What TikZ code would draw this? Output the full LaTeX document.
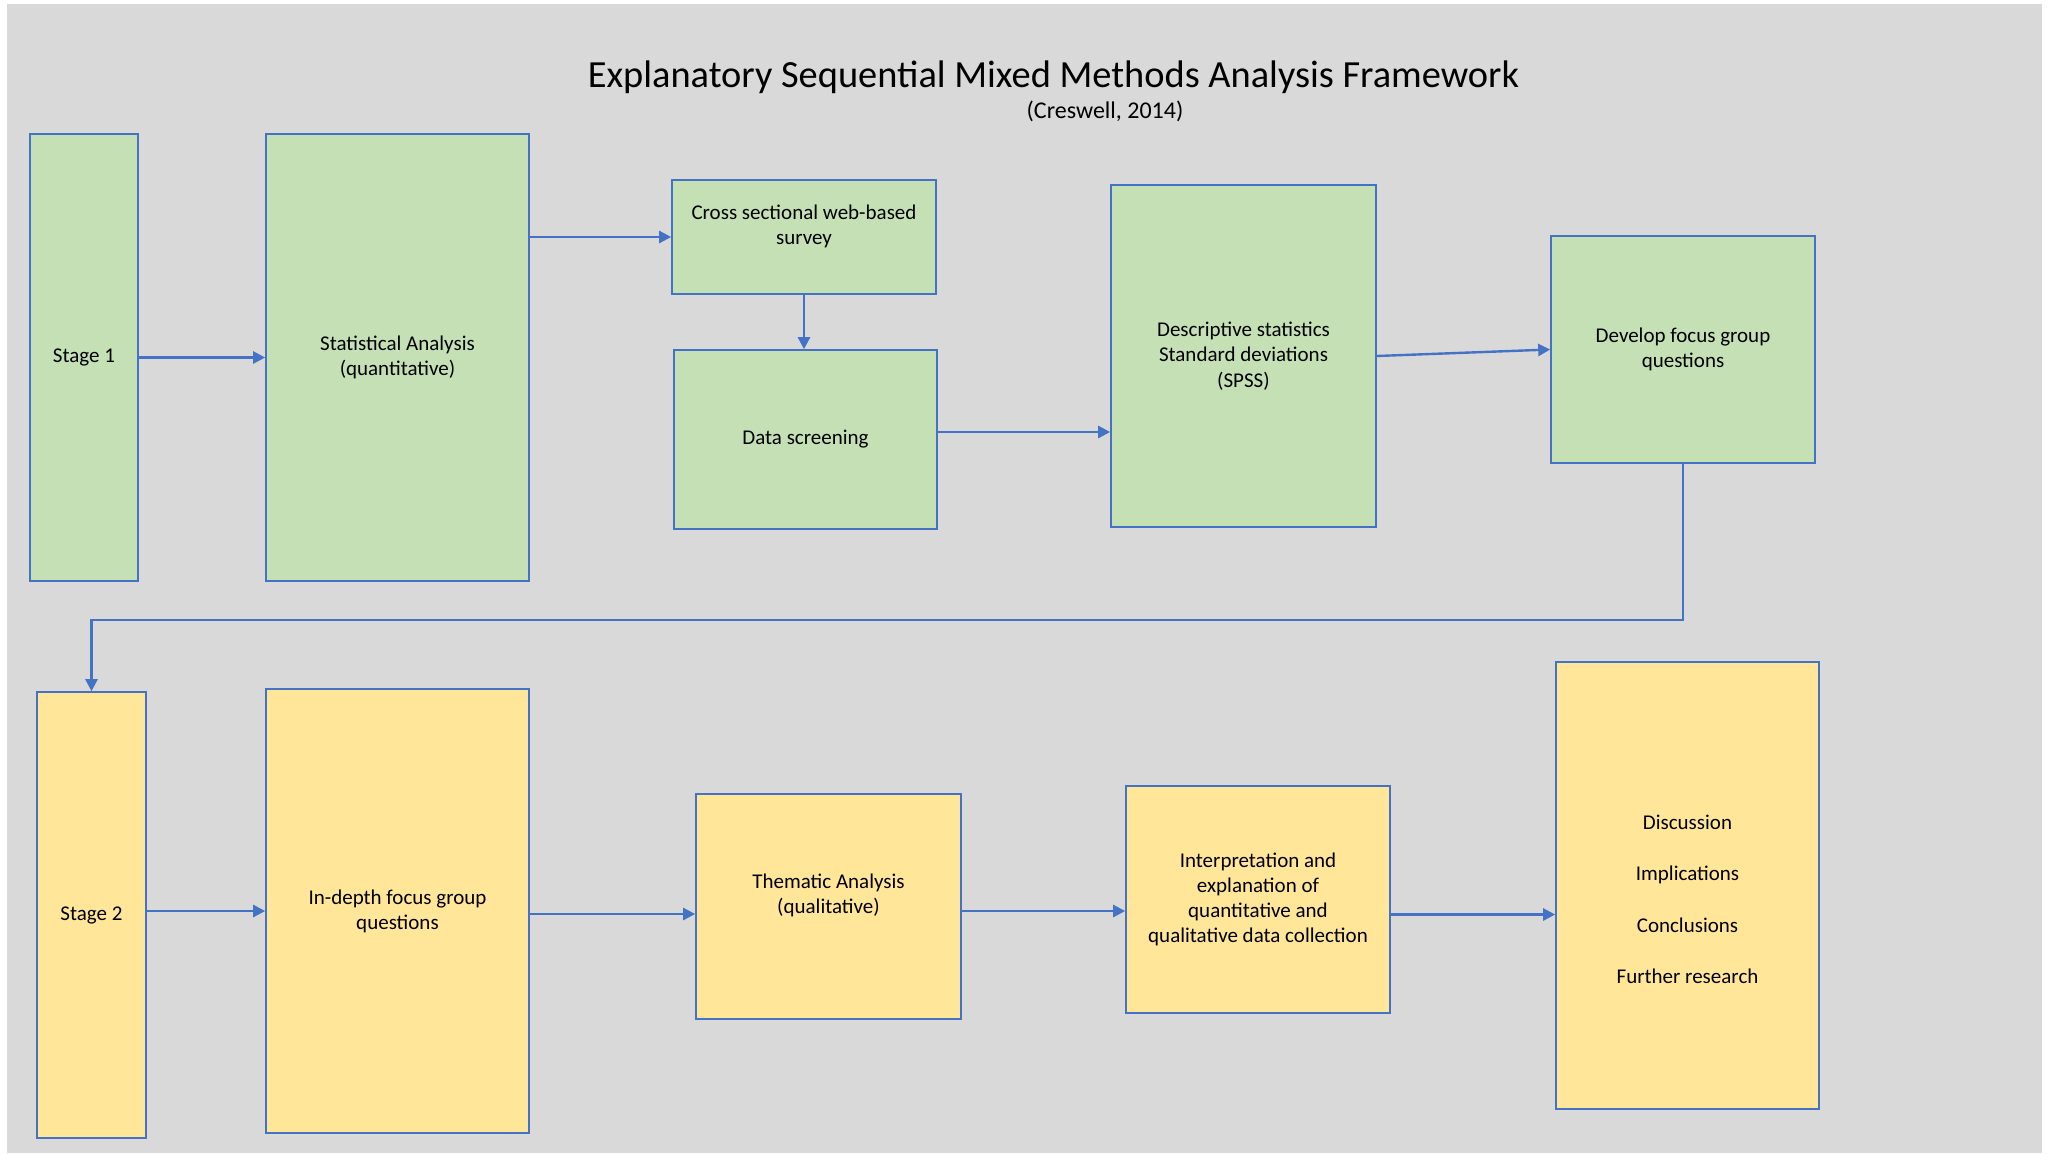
\documentclass[tikz,border=0pt]{standalone}
\usepackage{fontspec}
\setmainfont{Carlito}
\usetikzlibrary{arrows.meta}
\definecolor{boxgreen}{HTML}{C5E0B4}
\definecolor{boxyellow}{HTML}{FFE699}
\definecolor{framegrey}{HTML}{D9D9D9}
\definecolor{officeblue}{HTML}{4472C4}

\begin{document}
\begin{tikzpicture}[x=0.5pt,y=-0.5pt]
							\tikzstyle{quant} = [rectangle,fill=boxgreen,draw=officeblue,line width=0.8pt,align=center,font=\fontsize{10.5}{12.6}\selectfont]
							\tikzstyle{qual} = [quant,fill=boxyellow]
							\tikzstyle{flow} = [-{Triangle[length=6pt,width=6pt]},draw=officeblue,line width=1.2pt]
							\useasboundingbox (0,0) rectangle (2047,1153);
							\fill[framegrey] (7,4) rectangle (2042,1153);
							\node (title) at (1053.5,77) {\fontsize{19.2}{23}\selectfont Explanatory Sequential Mixed Methods Analysis Framework};
							\node (source) at (1105,111) {\fontsize{12}{14}\selectfont (Creswell, 2014)};
							% quantitative stage
							\node[quant,minimum width=54pt,minimum height=223.5pt] (stage1) at (84,357.5) {Stage 1};
							\node[quant,minimum width=131.5pt,minimum height=223.5pt] (stat) at (397.5,357.5) {Statistical Analysis\\(quantitative)};
							\node[quant,minimum width=132pt,minimum height=57pt] (survey) at (804,237) {Cross sectional web-based\\survey\\~};
							\node[quant,minimum width=131.5pt,minimum height=89.5pt] (screen) at (805.5,439.5) {Data screening};
							\node[quant,minimum width=132.5pt,minimum height=171pt] (descr) at (1243.5,356) {Descriptive statistics\\Standard deviations\\(SPSS)};
							\node[quant,minimum width=132pt,minimum height=113.5pt] (focus) at (1683,349.5) {Develop focus group\\questions};
							% qualitative stage
							\node[qual,minimum width=54.5pt,minimum height=223pt] (stage2) at (91.5,915) {Stage 2};
							\node[qual,minimum width=131.5pt,minimum height=222pt] (indepth) at (397.5,911) {In-depth focus group\\questions};
							\node[qual,minimum width=132.5pt,minimum height=112.5pt] (thematic) at (828.5,906.5) {Thematic Analysis\\(qualitative)\\~};
							\node[qual,minimum width=132pt,minimum height=113.5pt] (interp) at (1258,899.5) {Interpretation and\\explanation of\\quantitative and\\qualitative data collection};
							\node[qual,minimum width=131.5pt,minimum height=223.5pt] (discuss) at (1687.5,885.5) {~\\[8.5pt]Discussion\\[13pt]Implications\\[13pt]Conclusions\\[13pt]Further research};
							\coordinate (bend) at (0,620);
							
							\draw[flow] (stage1.east) -- (stat.west);
							\draw[flow] (stat.east |- survey.west) -- (survey.west);
							\draw[flow] (survey.south) -- (survey.south |- screen.north);
							\draw[flow] ([yshift=3.75pt]screen.east) -- ([yshift=3.75pt]screen.east -| descr.west);
							\draw[flow] (descr.east) -- (focus.west);
							\draw[flow] (focus.south) -- (focus.south |- bend) -| (stage2.north);
							\draw[flow] (stage2.east |- indepth.west) -- (indepth.west);
							\draw[flow] ([yshift=-1.5pt]indepth.east) -- ([yshift=-1.5pt]indepth.east -| thematic.west);
							\draw[flow] ([yshift=-2.25pt]thematic.east) -- ([yshift=-2.25pt]thematic.east -| interp.west);
							\draw[flow] ([yshift=-7.5pt]interp.east) -- ([yshift=-7.5pt]interp.east -| discuss.west);
\end{tikzpicture}
\end{document}
